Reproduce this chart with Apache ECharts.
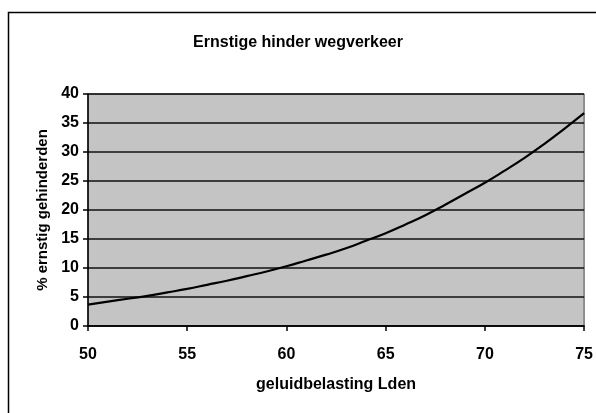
<!DOCTYPE html>
<html>
<head>
<meta charset="utf-8">
<script src="https://cdn.jsdelivr.net/npm/echarts@6/dist/echarts.min.js"></script>
<style>
  html, body { margin: 0; padding: 0; background: #fff; }
  #chart { width: 596px; height: 413px; }
</style>
</head>
<body>
<div id="chart"></div>
<script>
// geluidbelasting (dB Lden) en % ernstig gehinderden
const lden = [50, 51, 52, 53, 54, 55, 56, 57, 58, 59, 60, 61, 62, 63, 64, 65, 66, 67, 68, 69, 70, 71, 72, 73, 74, 75];
const gehinderd = [3.7, 4.2, 4.7, 5.2, 5.8, 6.4, 7.1, 7.8, 8.6, 9.4, 10.3, 11.3, 12.3, 13.4, 14.7, 16.0, 17.5, 19.1, 20.9, 22.8, 24.7, 26.8, 29.0, 31.4, 34.0, 36.7];

const titel = 'Ernstige hinder wegverkeer';
const xNaam = 'geluidbelasting Lden';
const yNaam = '% ernstig gehinderden';

const chart = echarts.init(document.getElementById('chart'), null, { renderer: 'canvas' });
const font = 'Liberation Sans, Arial, sans-serif';

chart.setOption({
  animation: false,
  backgroundColor: '#fff',
  title: {
    text: titel,
    left: 'center',
    top: 30,
    textStyle: { fontFamily: font, fontSize: 16, fontWeight: 'bold', color: '#000' }
  },
  graphic: [{
    type: 'rect',
    shape: { x: 8.5, y: 12.5, width: 600, height: 420 },
    style: { fill: 'none', stroke: '#000', lineWidth: 1.5 }
  }],
  grid: {
    left: 88, right: 11, top: 94, bottom: 87,
    show: true,
    backgroundColor: '#c4c4c4',
    borderColor: '#444',
    borderWidth: 1
  },
  xAxis: {
    type: 'value',
    min: 50, max: 75, interval: 5,
    name: xNaam,
    nameLocation: 'middle',
    nameGap: 51,
    nameTextStyle: { fontFamily: font, fontSize: 16, fontWeight: 'bold', color: '#000' },
    axisLine: { show: true, lineStyle: { color: '#000', width: 1.5 } },
    axisTick: { show: true, length: 5, lineStyle: { color: '#000', width: 1.5 } },
    axisLabel: { fontFamily: font, fontSize: 16, fontWeight: 'bold', color: '#000', margin: 21 },
    splitLine: { show: false }
  },
  yAxis: {
    type: 'value',
    min: 0, max: 40, interval: 5,
    name: yNaam,
    nameLocation: 'middle',
    nameGap: 34,
    nameTextStyle: { fontFamily: font, fontSize: 15, fontWeight: 'bold', color: '#000' },
    axisLine: { show: true, lineStyle: { color: '#000', width: 1.5 } },
    axisTick: { show: true, length: 5, lineStyle: { color: '#000', width: 1.5 } },
    axisLabel: { fontFamily: font, fontSize: 16, fontWeight: 'bold', color: '#000', margin: 9 },
    splitLine: { show: true, lineStyle: { color: '#111', width: 1.5 } }
  },
  series: [{
    type: 'line',
    data: lden.map((x, i) => [x, gehinderd[i]]),
    smooth: true,
    showSymbol: false,
    lineStyle: { color: '#000', width: 2.2 }
  }]
});
</script>
</body>
</html>
